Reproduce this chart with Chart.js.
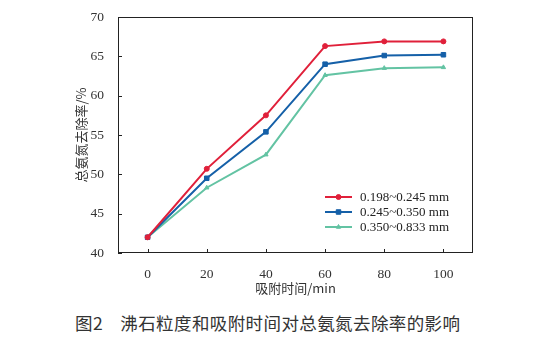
<!DOCTYPE html>
<html>
<head>
<meta charset="utf-8">
<script src="https://cdn.jsdelivr.net/npm/chart.js@4"></script>
<style>
  body { margin: 0; background: #fff; }
  #wrap { position: relative; width: 549px; height: 347px; }
  #chartBox { position: absolute; left: 0; top: 0; width: 549px; height: 300px; }
  #caption {
    position: absolute; left: 75px; top: 310px;
    font-family: "Noto Sans CJK SC", sans-serif; font-size: 17.5px; color: #333;
    white-space: nowrap; letter-spacing: 0.4px;
  }
</style>
</head>
<body>
<div id="wrap">
  <div id="chartBox"><canvas id="chart" width="549" height="300"></canvas></div>
  <div id="caption">图2&nbsp;&nbsp;&nbsp;&nbsp;沸石粒度和吸附时间对总氨氮去除率的影响</div>
</div>
<script>
// datos
const times = [0, 20, 40, 60, 80, 100];
const seriesNames = ['0.198~0.245 mm', '0.245~0.350 mm', '0.350~0.833 mm'];
const fine = [42.0, 50.7, 57.5, 66.3, 66.9, 66.9];
const medium = [42.0, 49.5, 55.4, 64.0, 65.1, 65.2];
const coarse = [42.0, 48.3, 52.5, 62.6, 63.5, 63.6];
const xTicks = [0, 20, 40, 60, 80, 100];
const yTicks = [40, 45, 50, 55, 60, 65, 70];

const seriesColors = ['#e0203a', '#1560a8', '#63c3a3'];
const seriesMarkers = ['circle', 'rect', 'triangle'];
const markerSizes = [2.5, 3.2, 2.5];
const serif = '"Liberation Serif", "Times New Roman", serif';
const cjk = '"Noto Sans CJK SC", sans-serif';

function toPoints(values) {
    return times.map((t, i) => ({ x: t, y: values[i] }));
}

// ticks hacia adentro y marco completo
const frameTicks = {
    id: 'frameTicks',
    afterDraw(chart) {
        const { ctx, chartArea: a, scales } = chart;
        ctx.save();
        ctx.strokeStyle = '#222';
        ctx.lineWidth = 1;
        ctx.strokeRect(a.left + 0.5, a.top + 0.5, a.right - a.left - 1, a.bottom - a.top - 1);
        ctx.beginPath();
        xTicks.forEach(v => {
            const x = Math.round(scales.x.getPixelForValue(v)) + 0.5;
            ctx.moveTo(x, a.bottom);
            ctx.lineTo(x, a.bottom - 4);
        });
        yTicks.forEach(v => {
            const y = Math.round(scales.y.getPixelForValue(v)) + 0.5;
            ctx.moveTo(a.left, y);
            ctx.lineTo(a.left + 4, y);
        });
        ctx.stroke();
        ctx.restore();
    }
};

// leyenda dentro del area del grafico
const innerLegend = {
    id: 'innerLegend',
    afterDraw(chart) {
        const { ctx } = chart;
        ctx.save();
        ctx.font = '13px ' + serif;
        ctx.textBaseline = 'middle';
        chart.data.datasets.forEach((ds, i) => {
            const y = 197 + i * 15;
            ctx.strokeStyle = ds.borderColor;
            ctx.fillStyle = ds.backgroundColor;
            ctx.lineWidth = 2;
            ctx.beginPath();
            ctx.moveTo(325, y);
            ctx.lineTo(352, y);
            ctx.stroke();
            ctx.lineWidth = 1;
            Chart.helpers.drawPoint(ctx, {
                pointStyle: ds.pointStyle, radius: ds.pointRadius, borderWidth: 1
            }, 338.5, y);
            ctx.fillStyle = '#222';
            ctx.fillText(ds.label, 360, y + 1);
        });
        ctx.restore();
    }
};

const datasets = [fine, medium, coarse].map((vals, i) => ({
    label: seriesNames[i],
    data: toPoints(vals),
    borderColor: seriesColors[i],
    backgroundColor: seriesColors[i],
    pointStyle: seriesMarkers[i],
    pointRadius: markerSizes[i],
    pointBorderWidth: 1,
    borderWidth: 2,
    tension: 0
}));

const chartCtx = document.getElementById('chart').getContext('2d');
const chart = new Chart(chartCtx, {
    type: 'line',
    data: { datasets: datasets },
    options: {
        responsive: false,
        animation: false,
        layout: { padding: { top: 17, right: 76, left: 0, bottom: 0 } },
        plugins: {
            legend: { display: false },
            tooltip: { enabled: false }
        },
        scales: {
            x: {
                type: 'linear',
                min: -10,
                max: 110,
                afterBuildTicks: s => { s.ticks = xTicks.map(v => ({ value: v })); },
                afterFit: s => { s.height = 47; },
                grid: { display: false },
                border: { display: false },
                ticks: { color: '#333', font: { family: serif, size: 13.5 }, padding: 5 },
                title: {
                    display: true, text: '吸附时间/min', color: '#333',
                    font: { family: cjk, size: 13 }, padding: { top: 0 }
                }
            },
            y: {
                min: 40,
                max: 70,
                afterBuildTicks: s => { s.ticks = yTicks.map(v => ({ value: v })); },
                afterFit: s => { s.width = 118; },
                grid: { display: false },
                border: { display: false },
                ticks: { color: '#333', font: { family: serif, size: 13.5 }, padding: 6 },
                title: {
                    display: true, text: '总氨氮去除率/%', color: '#333',
                    font: { family: cjk, size: 13 }, padding: { top: 73, bottom: 0 }
                }
            }
        }
    },
    plugins: [frameTicks, innerLegend]
});
</script>
</body>
</html>
